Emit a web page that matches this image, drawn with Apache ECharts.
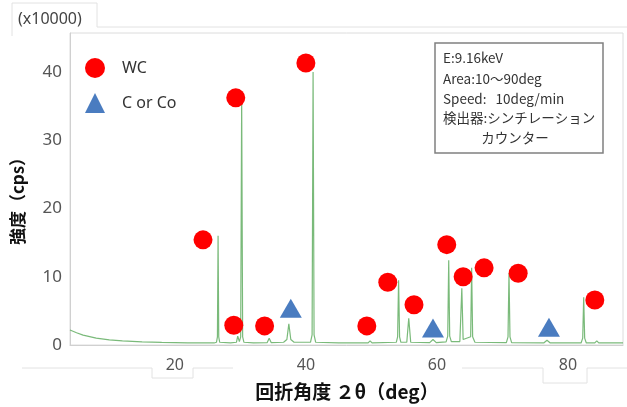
<!DOCTYPE html>
<html><head><meta charset="utf-8">
<script src="https://cdn.jsdelivr.net/npm/echarts@6/dist/echarts.min.js"></script>
<style>html,body{margin:0;padding:0;background:#fff}#c{width:627px;height:407px}</style>
</head><body><div id="c"></div>
<script>
// XRD pattern (deg, intensity x10000 cps)
const pattern = [
  [4,2.2],[5,1.8],[6,1.45],[8,1.0],[10,0.75],[12,0.6],[15,0.45],[18,0.38],[22,0.32],[26,0.3],
  [26.35,0.4],[26.5,1.2],[26.6,16.0],[26.7,1.2],[26.85,0.4],
  [28.5,0.3],[29.4,0.4],[29.6,1.3],[29.85,0.5],[30.05,1.2],[30.2,36.0],[30.35,1.2],[30.55,0.4],
  [32,0.3],[34.1,0.35],[34.4,1.0],[34.7,0.35],[36.6,0.4],[37.1,0.8],[37.4,3.1],[37.7,0.8],[38.2,0.4],
  [40.7,0.4],[40.95,1.5],[41.1,40.0],[41.25,1.5],[41.5,0.4],
  [45,0.3],[49.5,0.3],[49.8,0.6],[50.1,0.3],
  [53.8,0.4],[54.0,1.2],[54.15,9.5],[54.3,1.2],[54.5,0.4],
  [55.4,0.4],[55.7,3.9],[56.0,0.4],
  [58.9,0.35],[59.4,0.8],[59.9,0.35],
  [61.4,0.45],[61.65,1.3],[61.8,12.4],[61.95,1.3],[62.2,0.5],
  [63.5,0.5],[63.8,8.3],[64.0,0.8],[65.15,1.2],[65.3,11.3],[65.45,1.2],[65.8,0.4],
  [70.6,0.35],[70.85,1.2],[71.0,10.5],[71.15,1.2],[71.4,0.35],
  [76.3,0.3],[76.8,0.7],[77.3,0.3],
  [82.0,0.3],[82.25,1.0],[82.4,7.0],[82.55,1.0],[82.8,0.3],
  [84.1,0.3],[84.4,0.6],[84.7,0.3],[88.4,0.3]
];
// marker positions
const wcMarks = [
  [24.3,15.4],[29.0,2.9],[29.3,36.2],[33.7,2.8],[40.0,41.3],[49.3,2.8],[52.5,9.2],
  [56.5,5.9],[61.5,14.7],[64.0,10.0],[67.2,11.3],[72.4,10.5],[84.1,6.6]
];
const cCoMarks = [[37.7,5.4],[59.4,2.5],[77.1,2.6]];
const xTicks = [20,40,60,80];
const yTicks = [0,10,20,30,40];
const infoLines = ['E:9.16keV','Area:10〜90deg','Speed:   10deg/min','検出器:シンチレーション'];
const infoLast = 'カウンター';

const chart = echarts.init(document.getElementById('c'));
const jp = "'Noto Sans CJK JP','Noto Sans',sans-serif";
const faint = '#e2e2e2';
const graphics = [
  {type:'polyline', shape:{points:[[12,36],[12,3],[97,3],[97,27],[627,27]]}, style:{stroke:faint, fill:null, lineWidth:1}, silent:true},
  {type:'polyline', shape:{points:[[22,368],[152,368],[152,378],[193,378],[193,368],[233,368]]}, style:{stroke:faint, fill:null, lineWidth:1}, silent:true},
  {type:'polyline', shape:{points:[[462,368],[543,368],[543,383],[587,383],[587,368],[627,368]]}, style:{stroke:faint, fill:null, lineWidth:1}, silent:true},
  {type:'text', left:18, top:11, style:{text:'(x10000)', font:"16px 'Noto Sans',sans-serif", fill:'#444'}},
  {type:'rect', shape:{x:435, y:43, width:168, height:110}, style:{fill:'#fff', stroke:'#808080', lineWidth:1.5}, z:10},
];
infoLines.forEach((t,i)=>{
  graphics.push({type:'text', x:443, y:[58,79,99,118][i], style:{text:t, font:"13.5px "+jp, fill:'#333', verticalAlign:'middle'}, z:11});
});
graphics.push({type:'text', x:515, y:138, style:{text:infoLast, font:"13.5px "+jp, fill:'#333', align:'center', verticalAlign:'middle'}, z:11});
graphics.push({type:'text', x:18, y:197, rotation:Math.PI/2, style:{text:'強度（cps）', font:"bold 17px "+jp, fill:'#111', align:'center', verticalAlign:'middle'}});
graphics.push({type:'text', x:347, y:392, style:{text:'回折角度 ２θ（deg）', font:"bold 19px "+jp, fill:'#111', align:'center', verticalAlign:'middle'}});

chart.setOption({
  animation:false,
  grid:{left:70, right:4, top:33, bottom:62, show:true, borderColor:'#dcdcdc', borderWidth:1},
  legend:{
    orient:'vertical', left:85, top:58, itemWidth:20, itemHeight:20, itemGap:15, padding:0,
    data:[{name:'WC', icon:'circle'},{name:'C or Co', icon:'triangle'}],
    textStyle:{fontSize:16, color:'#333', fontFamily:"'Noto Sans',sans-serif", padding:[0,0,0,12]}
  },
  xAxis:{type:'value', min:4, max:88.4,
    axisLine:{show:true, lineStyle:{color:'#d0d0d0'}}, axisTick:{show:false}, splitLine:{show:false},
    axisLabel:{customValues:xTicks, fontSize:16, color:'#555', margin:12, fontFamily:"'Noto Sans',sans-serif"}},
  yAxis:{type:'value', min:0, max:45.7,
    axisLine:{show:true, lineStyle:{color:'#d0d0d0'}}, axisTick:{show:false}, splitLine:{show:false},
    axisLabel:{customValues:yTicks, fontSize:17, color:'#555', margin:8, fontFamily:"'Noto Sans',sans-serif"}},
  series:[
    {type:'line', data:pattern, showSymbol:false, lineStyle:{color:'#6cb26c', width:1.2, opacity:0.9}, z:2},
    {name:'WC', type:'scatter', data:wcMarks, symbol:'circle', symbolSize:19, itemStyle:{color:'#ff0000', opacity:1}, z:5},
    {name:'C or Co', type:'scatter', data:cCoMarks, symbol:'triangle', symbolSize:[22,19], itemStyle:{color:'#4a7cc0', opacity:1}, z:5}
  ],
  graphic:graphics
});
</script></body></html>
